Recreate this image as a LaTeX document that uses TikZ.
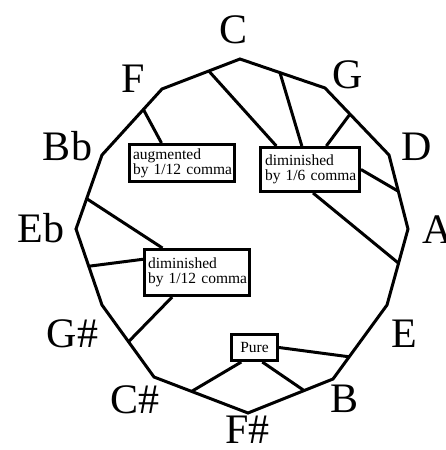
\documentclass[tikz,border=0pt]{standalone}
\usepackage{fontspec}
\setmainfont{Liberation Serif}
\usetikzlibrary{calc}
\begin{document}
\begin{tikzpicture}[x=1pt,y=-1pt,
  edge/.style={line width=3pt},
  lbl/.style={font=\fontsize{42}{42}\selectfont, inner sep=0pt, anchor=base},
  box/.style={draw, line width=3pt, fill=white, align=left, font=\fontsize{15.5}{15}\selectfont, inner ysep=0pt},
  ]
\useasboundingbox (0,0) rectangle (445,450);
% vertices
\coordinate (C) at (240,59);
\coordinate (G) at (325,88);
\coordinate (D) at (389,155);
\coordinate (A) at (408,229);
\coordinate (E) at (387,305);
\coordinate (B) at (333,379);
\coordinate (Fs) at (248,413);
\coordinate (Cs) at (154,377);
\coordinate (Gs) at (102,305);
\coordinate (Eb) at (76,229);
\coordinate (Bb) at (102,155);
\coordinate (F) at (162,89);
\draw[edge] (C) -- (G) -- (D) -- (A) -- (E) -- (B) -- (Fs) -- (Cs) -- (Gs) -- (Eb) -- (Bb) -- (F) -- cycle;
% labels
\node[lbl] (lC) at (234,43) {C};
\node[lbl] (lF) at (133.5,92) {F};
\node[lbl] (lG) at (348,88) {G};
\node[lbl] (lD) at (416.5,160) {D};
\node[lbl] (lA) at (438,243) {A};
\node[lbl] (lBb) at (67.5,160) {Bb};
\node[lbl] (lEb) at (41,242) {Eb};
\node[lbl] (lGs) at (72.5,347) {G\#};
\node[lbl] (lE) at (404,347) {E};
\node[lbl] (lCs) at (135,413) {C\#};
\node[lbl] (lB) at (345,412) {B};
\node[lbl] (lFs) at (247.5,443) {F\#};
% boxes
\node[box, text width=98pt, inner xsep=3.5pt, minimum height=37pt] (aug) at (182,163) {\mbox{augmented}\\\mbox{by 1/12 comma}};
\node[box, text width=90pt, inner xsep=4.5pt, minimum height=44pt] (dimA) at (310,169.5) {\mbox{diminished}\\\mbox{by 1/6 comma}};
\node[box, text width=98pt, inner xsep=3.5pt, minimum height=46pt] (dimB) at (197,272.5) {\mbox{diminished}\\\mbox{by 1/12 comma}};
\node[box, align=center, minimum width=46pt, minimum height=26pt, inner xsep=0pt] (pure) at (254.5,347.5) {Pure};
% points on edges
\coordinate (pCF) at ($(C)!0.40!(F)$);
\coordinate (pFBb) at ($(F)!0.31!(Bb)$);
\coordinate (pCG) at ($(C)!0.47!(G)$);
\coordinate (pGD) at ($(G)!0.39!(D)$);
\coordinate (pDA) at ($(D)!0.49!(A)$);
\coordinate (pAE) at ($(A)!0.45!(E)$);
\coordinate (pBbEb) at ($(Bb)!0.59!(Eb)$);
\coordinate (pEbGs) at ($(Eb)!0.49!(Gs)$);
\coordinate (pGsCs) at ($(Gs)!0.51!(Cs)$);
\coordinate (pCsFs) at ($(Cs)!0.40!(Fs)$);
\coordinate (pFsB) at ($(Fs)!0.66!(B)$);
\coordinate (pBE) at ($(B)!0.30!(E)$);
% points on boxes
\coordinate (augT) at ($(aug.north west)!0.31!(aug.north east)$);
\coordinate (dAT1) at ($(dimA.north west)!0.17!(dimA.north east)$);
\coordinate (dAT2) at ($(dimA.north west)!0.42!(dimA.north east)$);
\coordinate (dAT3) at ($(dimA.north west)!0.66!(dimA.north east)$);
\coordinate (dAB) at ($(dimA.south west)!0.53!(dimA.south east)$);
\coordinate (dBT) at ($(dimB.north west)!0.18!(dimB.north east)$);
\coordinate (dBL) at ($(dimB.north west)!0.23!(dimB.south west)$);
\coordinate (dBB) at ($(dimB.south west)!0.27!(dimB.south east)$);
\coordinate (pB1) at ($(pure.south west)!0.23!(pure.south east)$);
\coordinate (pB2) at ($(pure.south west)!0.66!(pure.south east)$);
% connectors
\draw[edge] (pFBb) -- (augT);
\draw[edge] (pCF) -- (dAT1);
\draw[edge] (pCG) -- (dAT2);
\draw[edge] (pGD) -- (dAT3);
\draw[edge] (dimA.east) -- (pDA);
\draw[edge] (dAB) -- (pAE);
\draw[edge] (pBbEb) -- (dBT);
\draw[edge] (pEbGs) -- (dBL);
\draw[edge] (dBB) -- (pGsCs);
\draw[edge] (pure.east) -- (pBE);
\draw[edge] (pB1) -- (pCsFs);
\draw[edge] (pB2) -- (pFsB);
\end{tikzpicture}
\end{document}
